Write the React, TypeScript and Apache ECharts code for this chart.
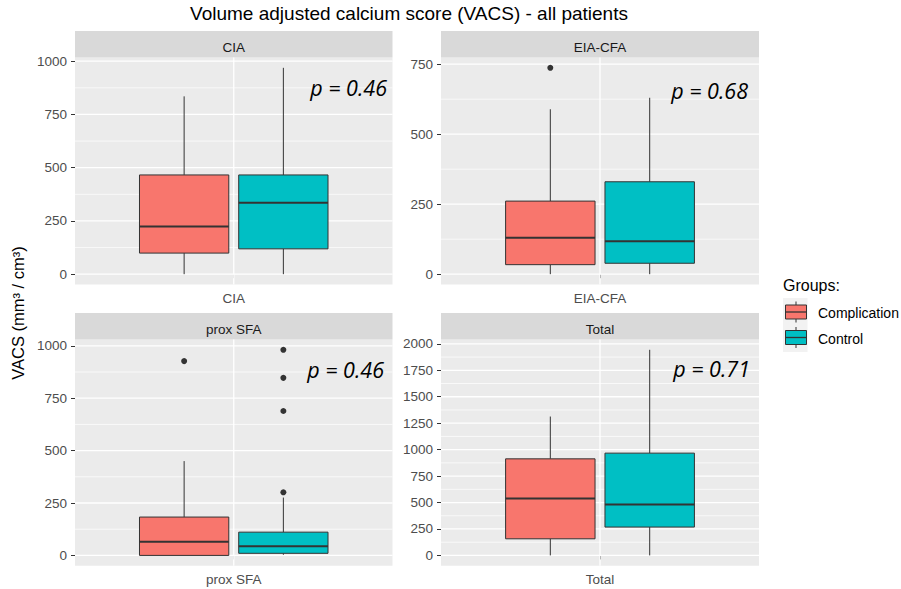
import React, { useEffect, useRef } from 'react';
import * as echarts from 'echarts';

// ---------------- data ----------------
const panelNames = ['CIA', 'EIA-CFA', 'prox SFA', 'Total'];
const groupNames = ['Complication', 'Control'];
const groupColors = ['#F8766D', '#00BFC4'];
// [lower whisker, Q1, median, Q3, upper whisker]
const complicationStats = [
  [0, 99, 224, 466, 835],
  [0, 34, 130, 261, 589],
  [0, 0, 65, 183, 450],
  [0, 157, 538, 913, 1313],
];
const controlStats = [
  [0, 119, 335, 466, 969],
  [0, 39, 118, 330, 630],
  [3, 10, 44, 111, 276],
  [0, 268, 482, 967, 1944],
];
const complicationOutliers = [[], [737], [927], []];
const controlOutliers = [[], [], [981, 847, 689, 301], []];
const pValueLabels = ['p = 0.46', 'p = 0.68', 'p = 0.46', 'p = 0.71'];
const yTickValues = [
  [0, 250, 500, 750, 1000],
  [0, 250, 500, 750],
  [0, 250, 500, 750, 1000],
  [0, 250, 500, 750, 1000, 1250, 1500, 1750, 2000],
];

// ---------------- layout / style ----------------
const FONT = '"Liberation Sans", Arial, sans-serif';
const panelRects = [
  { left: 75, top: 57.5, width: 317.5, height: 227 },
  { left: 441, top: 57.5, width: 318, height: 227 },
  { left: 75, top: 339.5, width: 317.5, height: 226.2 },
  { left: 441, top: 339.5, width: 318, height: 226.2 },
];
const STRIP_H = 26.5;
const pValuePos = [
  [387, 87],
  [748, 90],
  [384, 369.5],
  [750, 368.5],
];
const statsByGroup = [complicationStats, controlStats];
const outliersByGroup = [complicationOutliers, controlOutliers];
const dodge = (g: number) => 1 + (g - 0.5) * 0.375;
const BOX_W = 0.3375;

function buildOption() {
  const grid: any[] = [];
  const xAxis: any[] = [];
  const yAxis: any[] = [];
  const series: any[] = [];
  const graphic: any[] = [];

  panelNames.forEach((name, i) => {
    const r = panelRects[i];
    grid.push({
      left: r.left,
      top: r.top,
      width: r.width,
      height: r.height,
      show: true,
      backgroundColor: '#EBEBEB',
      borderWidth: 0,
    });
    const allVals = [
      ...complicationStats[i],
      ...controlStats[i],
      ...complicationOutliers[i],
      ...controlOutliers[i],
    ];
    const M = Math.max(...allVals);
    const ticks = yTickValues[i];
    const step = ticks[1] - ticks[0];
    xAxis.push({
      gridIndex: i,
      type: 'value',
      min: 0.4,
      max: 1.6,
      axisLine: { show: false },
      axisTick: {
        show: true,
        length: 4,
        customValues: [1],
        lineStyle: { color: '#333333', width: 1 },
      },
      axisLabel: {
        customValues: [1],
        formatter: () => name,
        color: '#4D4D4D',
        fontSize: 13.5,
        fontFamily: FONT,
        margin: 7,
      },
      splitLine: { show: false },
    });
    yAxis.push({
      gridIndex: i,
      type: 'value',
      min: -0.05 * M,
      max: 1.05 * M,
      minInterval: step,
      maxInterval: step,
      axisLine: { show: false },
      axisTick: {
        show: true,
        length: 4,
        customValues: ticks,
        lineStyle: { color: '#333333', width: 1 },
      },
      axisLabel: {
        customValues: ticks,
        formatter: (v: number) => String(v),
        color: '#4D4D4D',
        fontSize: 13.5,
        fontFamily: FONT,
        margin: 8,
      },
      splitLine: { show: false },
    });

    // grid lines
    const gl: number[][] = [];
    ticks.forEach((t) => gl.push([1, t, 0]));
    for (let k = 0; k < ticks.length - 1; k++) gl.push([1, (ticks[k] + ticks[k + 1]) / 2, 1]);
    gl.push([1, 0, 2]);
    series.push({
      type: 'custom',
      xAxisIndex: i,
      yAxisIndex: i,
      silent: true,
      z: 1,
      data: gl,
      renderItem: (params: any, api: any) => {
        const cs = params.coordSys;
        const kind = api.value(2);
        const p = api.coord([api.value(0), api.value(1)]);
        if (kind === 2) {
          return {
            type: 'line',
            shape: { x1: p[0], y1: cs.y, x2: p[0], y2: cs.y + cs.height },
            style: { stroke: '#FFFFFF', lineWidth: 1.3 },
          };
        }
        return {
          type: 'line',
          shape: { x1: cs.x, y1: p[1], x2: cs.x + cs.width, y2: p[1] },
          style: { stroke: '#FFFFFF', lineWidth: kind === 0 ? 1.3 : 0.7 },
        };
      },
    });

    // boxes
    groupNames.forEach((gName, g) => {
      const s = statsByGroup[g][i];
      series.push({
        type: 'custom',
        name: gName,
        xAxisIndex: i,
        yAxisIndex: i,
        z: 2,
        data: [[dodge(g), ...s]],
        encode: { x: 0, y: [1, 2, 3, 4, 5] },
        renderItem: (params: any, api: any) => {
          const x0 = api.value(0);
          const pMin = api.coord([x0, api.value(1)]);
          const yQ1 = api.coord([x0, api.value(2)])[1];
          const yMed = api.coord([x0, api.value(3)])[1];
          const yQ3 = api.coord([x0, api.value(4)])[1];
          const yMax = api.coord([x0, api.value(5)])[1];
          const xc = pMin[0];
          const w = api.size([BOX_W, 0])[0];
          const ls = { stroke: '#333333', lineWidth: 1 };
          return {
            type: 'group',
            children: [
              { type: 'line', shape: { x1: xc, y1: yQ3, x2: xc, y2: yMax }, style: ls },
              { type: 'line', shape: { x1: xc, y1: yQ1, x2: xc, y2: pMin[1] }, style: ls },
              {
                type: 'rect',
                shape: { x: xc - w / 2, y: yQ3, width: w, height: yQ1 - yQ3 },
                style: { fill: groupColors[g], stroke: '#333333', lineWidth: 1 },
              },
              {
                type: 'line',
                shape: { x1: xc - w / 2, y1: yMed, x2: xc + w / 2, y2: yMed },
                style: { stroke: '#333333', lineWidth: 2 },
              },
            ],
          };
        },
      });
    });

    // outliers
    const outData: number[][] = [];
    groupNames.forEach((_, g) => {
      outliersByGroup[g][i].forEach((v) => outData.push([dodge(g), v]));
    });
    series.push({
      type: 'scatter',
      xAxisIndex: i,
      yAxisIndex: i,
      z: 3,
      symbol: 'circle',
      symbolSize: 6,
      itemStyle: { color: '#333333', opacity: 1 },
      data: outData,
    });

    // strip
    graphic.push({
      type: 'rect',
      x: r.left,
      y: r.top - STRIP_H,
      shape: { x: 0, y: 0, width: r.width, height: STRIP_H },
      style: { fill: '#D9D9D9' },
      silent: true,
    });
    graphic.push({
      type: 'text',
      x: r.left + r.width / 2,
      y: r.top - STRIP_H + 16.5,
      style: {
        text: name,
        fill: '#1A1A1A',
        fontSize: 13.5,
        fontFamily: FONT,
        align: 'center',
        verticalAlign: 'middle',
        textAlign: 'center',
        textVerticalAlign: 'middle',
      },
      silent: true,
    });
    // p value
    graphic.push({
      type: 'text',
      x: pValuePos[i][0],
      y: pValuePos[i][1],
      z: 10,
      style: {
        text: pValueLabels[i],
        fill: '#000000',
        fontSize: 21.5,
        fontStyle: 'italic',
        fontFamily: '"Open Sans", "Noto Sans", sans-serif',
        align: 'right',
        verticalAlign: 'middle',
        textAlign: 'right',
        textVerticalAlign: 'middle',
      },
      silent: true,
    });
  });

  // title
  graphic.push({
    type: 'text',
    x: 409,
    y: 13.5,
    style: {
      text: 'Volume adjusted calcium score (VACS) - all patients',
      fill: '#000000',
      fontSize: 19,
      fontFamily: FONT,
      align: 'center',
      verticalAlign: 'middle',
      textAlign: 'center',
      textVerticalAlign: 'middle',
    },
  });
  // y axis title
  graphic.push({
    type: 'text',
    x: 18,
    y: 313,
    rotation: Math.PI / 2,
    style: {
      text: 'VACS (mm³ / cm³)',
      fill: '#000000',
      fontSize: 16.5,
      fontFamily: FONT,
      align: 'center',
      verticalAlign: 'middle',
      textAlign: 'center',
      textVerticalAlign: 'middle',
    },
  });
  // legend
  graphic.push({
    type: 'text',
    x: 783,
    y: 285,
    style: {
      text: 'Groups:',
      fill: '#000000',
      fontSize: 16,
      fontFamily: FONT,
      align: 'left',
      verticalAlign: 'middle',
      textAlign: 'left',
      textVerticalAlign: 'middle',
    },
  });
  graphic.push({
    type: 'rect',
    x: 783,
    y: 298,
    shape: { x: 0, y: 0, width: 24.5, height: 54 },
    style: { fill: '#F2F2F2' },
  });
  groupNames.forEach((gName, g) => {
    const cy = 312 + 25.5 * g;
    graphic.push({
      type: 'line',
      shape: { x1: 796, y1: cy - 10.5, x2: 796, y2: cy + 10.5 },
      style: { stroke: '#333333', lineWidth: 1 },
    });
    graphic.push({
      type: 'rect',
      shape: { x: 785.5, y: cy - 7, width: 21, height: 14 },
      style: { fill: groupColors[g], stroke: '#333333', lineWidth: 1 },
    });
    graphic.push({
      type: 'line',
      shape: { x1: 785.5, y1: cy, x2: 806.5, y2: cy },
      style: { stroke: '#333333', lineWidth: 1.3 },
    });
    graphic.push({
      type: 'text',
      x: 818,
      y: cy + 1,
      style: {
        text: gName,
        fill: '#000000',
        fontSize: 14,
        fontFamily: FONT,
        align: 'left',
        verticalAlign: 'middle',
        textAlign: 'left',
        textVerticalAlign: 'middle',
      },
    });
  });

  return {
    animation: false,
    backgroundColor: '#FFFFFF',
    textStyle: { fontFamily: FONT },
    grid,
    xAxis,
    yAxis,
    series,
    graphic,
  };
}

export default function App() {
  const ref = useRef<HTMLDivElement>(null);
  useEffect(() => {
    document.body.style.margin = '0';
    if (!ref.current) return;
    const chart = echarts.init(ref.current, undefined, { renderer: 'svg' });
    chart.setOption(buildOption() as any);
    return () => {
      chart.dispose();
    };
  }, []);
  return <div ref={ref} style={{ width: 901, height: 589 }} />;
}
